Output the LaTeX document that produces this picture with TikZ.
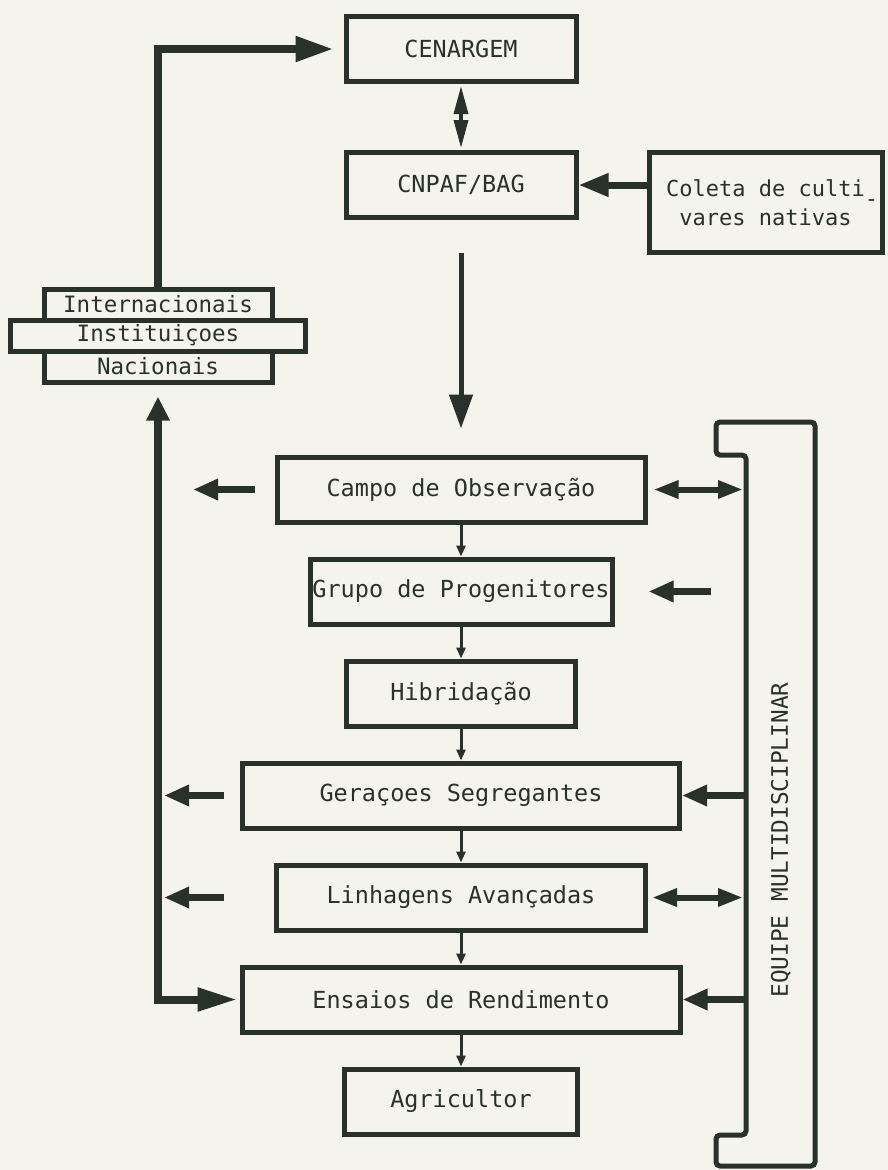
\documentclass[tikz,border=0pt]{standalone}
\usepackage{fontspec}
\newfontfamily\tw{DejaVu Sans Mono}
\usetikzlibrary{positioning,arrows.meta}
\definecolor{ink}{RGB}{40,50,42}
\definecolor{paper}{RGB}{245,244,236}
\tikzset{
  box/.style={
    rectangle,
    draw=ink, line width=5pt,
    text=ink,
    font=\tw\fontsize{23.5}{30}\selectfont,
    minimum height=65pt,
    align=center},
  band/.style={
    rectangle,
    draw=ink, line width=5pt,
    text=ink,
    font=\tw\fontsize{22.5}{26}\selectfont,
    minimum height=31pt,
    inner sep=0pt},
  feed/.style={draw=ink, line width=8pt, -{Triangle[length=38pt,width=24pt]}},
  bigdown/.style={draw=ink, line width=5pt, -{Triangle[length=34pt,width=23pt]}},
  twin/.style={draw=ink, line width=3.5pt,
    {Triangle[length=28pt,width=14pt]}-{Triangle[length=28pt,width=14pt]}},
  stepline/.style={draw=ink, line width=3pt, -{Triangle[length=11pt,width=9pt]}},
  stub/.style={draw=ink, line width=7pt, -{Triangle[length=25pt,width=20pt]}},
  twoway/.style={draw=ink, line width=6pt,
    {Triangle[length=25pt,width=17pt]}-{Triangle[length=25pt,width=17pt]}},
}

\begin{document}
\begin{tikzpicture}[x=1pt, y=-1pt, node distance=32pt]
\fill[paper] (0,0) rectangle (888,1170);
\useasboundingbox (0,0) rectangle (888,1170);

% germplasm bank
\node[box, minimum width=230pt] (cen) at (461,49) {CENARGEM};
\node[box, minimum width=230pt, below=66pt of cen] (cnpaf) {CNPAF/BAG};
\node[box, minimum width=233pt, minimum height=100pt,
      font=\tw\fontsize{22}{29}\selectfont,
      right=68pt of cnpaf.north east, anchor=north west] (coleta)
      {Coleta de culti\rlap{\raisebox{-.45em}{-}}\\vares nativas};

% institutions
\node[band, minimum width=295pt] (inst) at (158,335.5) {Instituiçoes};
\node[band, minimum width=228pt, above=-5pt of inst] (inter) {Internacionais};
\node[band, minimum width=228pt, below=-5pt of inst] (nac) {Nacionais};

% breeding steps
\node[box, minimum width=368pt] (camp) at (461,489.5) {Campo de Observação};
\node[box, minimum width=302pt, inner xsep=2pt, below=of camp] (grupo) {Grupo de Progenitores};
\node[box, minimum width=229pt, below=of grupo] (hib) {Hibridação};
\node[box, minimum width=437pt, below=of hib] (ger) {Geraçoes Segregantes};
\node[box, minimum width=369pt, below=of ger] (linh) {Linhagens Avançadas};
\node[box, minimum width=438pt, below=of linh] (ens) {Ensaios de Rendimento};
\node[box, minimum width=233pt, below=of ens] (agri) {Agricultor};

% team bracket
\draw[ink, line width=5pt, rounded corners=4pt]
  (716,422) -- (815,422) -- (815,1166) -- (716,1166) -- (716,1135)
  -- (746,1135) -- (746,455) -- (716,455) -- cycle;
\node[rotate=90, text=ink, font=\tw\fontsize{22.75}{26}\selectfont] (team) at (781,840)
  {EQUIPE MULTIDISCIPLINAR};
\coordinate (teamin) at (746,0);
\coordinate (outA) at (193,0);
\coordinate (outB) at (164,0);

% connectors
\draw[twin, shorten <=2pt, shorten >=2pt] (cen) -- (cnpaf);
\draw[stub, -{Triangle[length=30pt,width=22pt]}] (coleta.west |- cnpaf) -- (cnpaf.east);
\draw[bigdown, shorten <=33pt, shorten >=26pt] (cnpaf) -- (camp);
\draw[feed, shorten >=10pt] (inter.north) |- (cen.west);
\draw[feed, {Triangle[length=24pt,width=22pt]}-{Triangle[length=40pt,width=22pt]},
      shorten <=12pt, shorten >=2pt] (nac.south) |- (ens.west);

\foreach \a/\b in {camp/grupo, grupo/hib, hib/ger, ger/linh, linh/ens, ens/agri}
  \draw[stepline] (\a) -- (\b);

\draw[stub, shorten <=20pt] (camp.west) -- (camp.west -| outA);
\draw[stub, shorten <=16pt] (ger.west) -- (ger.west -| outB);
\draw[stub, shorten <=50pt] (linh.west) -- (linh.west -| outB);

\draw[twoway, shorten <=6pt, shorten >=3pt] (camp.east) -- (camp.east -| teamin);
\draw[stub, shorten <=35pt, shorten >=34pt] (grupo.east -| teamin) -- (grupo.east);
\draw[stub, shorten <=2pt] (ger.east -| teamin) -- (ger.east);
\draw[twoway, shorten <=4pt, shorten >=3pt] (linh.east) -- (linh.east -| teamin);
\draw[stub, shorten <=2pt] (ens.east -| teamin) -- (ens.east);
\end{tikzpicture}
\end{document}
